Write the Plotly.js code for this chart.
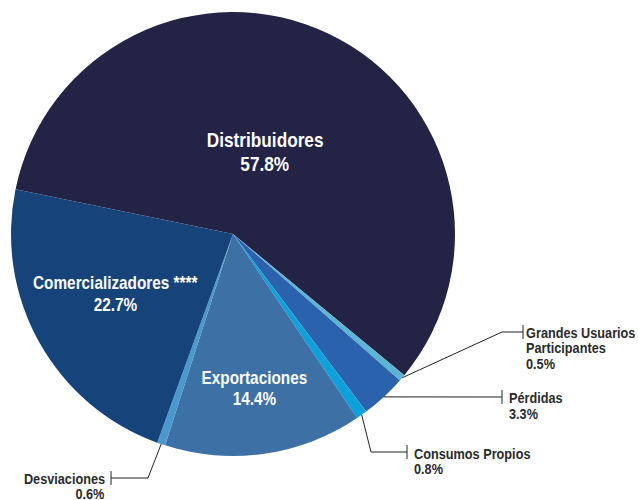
<!DOCTYPE html>
<html>
<head>
<meta charset="utf-8">
<script src="https://cdn.plot.ly/plotly-3.0.1.min.js"></script>
<style>html,body{margin:0;padding:0;background:#fff;}#chart{width:638px;height:500px;}</style>
</head>
<body>
<div id="chart"></div>
<script>
// ---- data ----
const labels = ['Distribuidores', 'Grandes Usuarios Participantes', 'Pérdidas', 'Consumos Propios', 'Exportaciones', 'Desviaciones', 'Comercializadores ****'];
const labelLines = [['Distribuidores'], ['Grandes Usuarios', 'Participantes'], ['Pérdidas'], ['Consumos Propios'], ['Exportaciones'], ['Desviaciones'], ['Comercializadores ****']];
const values = [57.8, 0.5, 3.3, 0.8, 14.4, 0.6, 22.7];
const colors = ['#232346', '#5cb4d7', '#2a62ad', '#0ea0db', '#3d70a4', '#4b98cf', '#164379'];

// ---- layout helpers ----
const W = 638, H = 500;
const CX = 233, CY = 234, R = 222;
const ROT = 281.6;
const NARROW = 0.82;
const px = x => x / W;
const py = y => 1 - y / H;

const total = values.reduce((a, b) => a + b, 0);
function midAngle(i) {
  let start = ROT;
  for (let k = 0; k < i; k++) start += values[k] / total * 360;
  return (start + values[i] / total * 180) * Math.PI / 180;
}
function rim(i) {
  const a = midAngle(i);
  return [CX + R * Math.sin(a), CY - R * Math.cos(a)];
}

// label placement (pixels)
const placement = [
  {x: 264.5, y: 139, anchor: 'center', inside: true, size: 21, gap: 24},
  {x: 525, y: 332, anchor: 'left', size: 15.5, gap: 15.5, route: [[502, 332], [523, 332]], tick: 523},
  {x: 508, y: 397, anchor: 'left', size: 15.5, gap: 16, route: [[502, 397]], tick: 502},
  {x: 413, y: 453, anchor: 'left', size: 15.5, gap: 15.5, route: [[371, 452], [407, 452]], tick: 407},
  {x: 254, y: 377, anchor: 'center', inside: true, size: 18.7, gap: 21.5},
  {x: 106, y: 478, anchor: 'right', size: 15.5, gap: 15, route: [[148, 478], [111, 478]], tick: 111},
  {x: 115.5, y: 282, anchor: 'center', inside: true, size: 18.7, gap: 22.5}
];

const FONT = 'Liberation Sans, Arial, sans-serif';
const annotations = [];
const anchors = [];
const shapes = [];
placement.forEach((p, i) => {
  const lines = labelLines[i].concat([values[i].toFixed(1) + '%']);
  const font = {family: FONT, size: p.size, color: p.inside ? '#ffffff' : '#2b2b2b', weight: 'bold'};
  lines.forEach((t, j) => {
    annotations.push({
      text: '<b>' + t + '</b>', showarrow: false, xref: 'paper', yref: 'paper',
      x: px(p.x), y: py(p.y + j * p.gap), xanchor: p.anchor, yanchor: 'middle',
      font: font, borderpad: 0
    });
    anchors.push(p.anchor);
  });
  if (p.route) {
    const pts = [rim(i)].concat(p.route);
    const path = pts.map((q, k) => (k ? 'L' : 'M') + px(q[0]) + ',' + py(q[1])).join(' ');
    shapes.push({type: 'path', xref: 'paper', yref: 'paper', path: path, line: {color: '#222', width: 1}});
    const ty = p.route[p.route.length - 1][1];
    shapes.push({type: 'line', xref: 'paper', yref: 'paper', x0: px(p.tick), x1: px(p.tick), y0: py(ty - 7), y1: py(ty + 7), line: {color: '#222', width: 1}});
  }
});

const data = [{
  type: 'pie', labels: labels, values: values, sort: false, direction: 'clockwise',
  rotation: ROT, textinfo: 'none', hoverinfo: 'label+percent',
  marker: {colors: colors, line: {width: 0}},
  domain: {x: [px(CX - R), px(CX + R)], y: [py(CY + R), py(CY - R)]}
}];

const layout = {
  width: W, height: H, margin: {l: 0, r: 0, t: 0, b: 0},
  showlegend: false, paper_bgcolor: '#fff', plot_bgcolor: '#fff',
  annotations: annotations, shapes: shapes
};
Plotly.newPlot('chart', data, layout, {displayModeBar: false, staticPlot: true}).then(gd => {
  // emulate a narrow bold face by condensing the label glyphs horizontally
  gd.querySelectorAll('g.annotation').forEach(g => {
    const idx = +g.getAttribute('data-index');
    const t = g.querySelector('text.annotation-text');
    if (!t) return;
    t.style.transformBox = 'fill-box';
    t.style.transformOrigin = anchors[idx] === 'left' ? 'left center' : anchors[idx] === 'right' ? 'right center' : 'center center';
    t.style.transform = 'scaleX(' + NARROW + ')';
  });
});
</script>
</body>
</html>
